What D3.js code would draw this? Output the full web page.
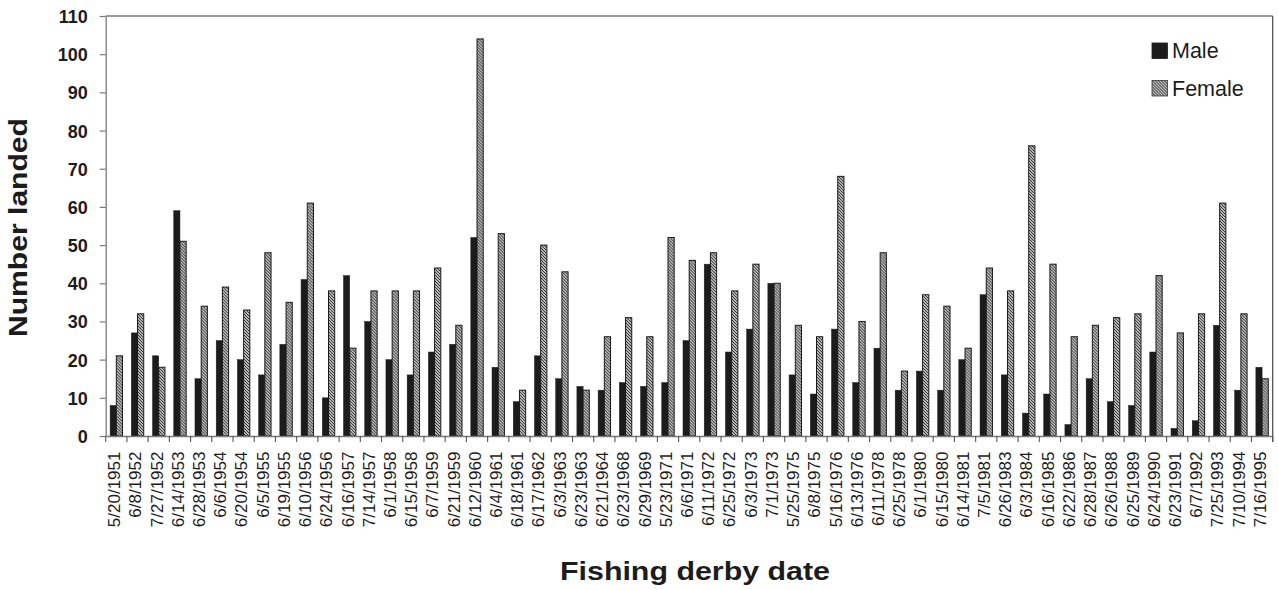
<!DOCTYPE html>
<html>
<head>
<meta charset="utf-8">
<script src="https://cdn.jsdelivr.net/npm/d3@7"></script>
<style>
  html, body { margin: 0; padding: 0; background: #fff; }
  svg { display: block; font-family: "Liberation Sans", Arial, sans-serif; }
</style>
</head>
<body>
<svg id="chart" width="1278" height="590"></svg>
<script>
// Fishing derby dates and fish landed by sex
const dates = ["5/20/1951","6/8/1952","7/27/1952","6/14/1953","6/28/1953","6/6/1954","6/20/1954","6/5/1955","6/19/1955","6/10/1956",
  "6/24/1956","6/16/1957","7/14/1957","6/1/1958","6/15/1958","6/7/1959","6/21/1959","6/12/1960","6/4/1961","6/18/1961",
  "6/17/1962","6/3/1963","6/23/1963","6/21/1964","6/23/1968","6/29/1969","5/23/1971","6/6/1971","6/11/1972","6/25/1972",
  "6/3/1973","7/1/1973","5/25/1975","6/8/1975","5/16/1976","6/13/1976","6/11/1978","6/25/1978","6/1/1980","6/15/1980",
  "6/14/1981","7/5/1981","6/26/1983","6/3/1984","6/16/1985","6/22/1986","6/28/1987","6/26/1988","6/25/1989","6/24/1990",
  "6/23/1991","6/7/1992","7/25/1993","7/10/1994","7/16/1995"];
const male = [8,27,21,59,15,25,20,16,24,41,10,42,30,20,16,22,24,52,18,9,21,15,13,12,14,13,14,25,45,22,28,40,16,11,28,14,23,12,17,12,20,37,16,6,11,3,15,9,8,22,2,4,29,12,18];
const female = [21,32,18,51,34,39,33,48,35,61,38,23,38,38,38,44,29,104,53,12,50,43,12,26,31,26,52,46,48,38,45,40,29,26,68,30,48,17,37,34,23,44,38,76,45,26,29,31,32,42,27,32,61,32,15];
const seriesNames = ["Male", "Female"];
const yTicks = [0,10,20,30,40,50,60,70,80,90,100,110];

const svg = d3.select("#chart");
const plotL = 105.7, plotR = 1272.7, plotT = 16, plotB = 436;
const ink = "#1c1c1c", axisCol = "#7a7a7a";

// Diagonal hatch for the female series
const defs = svg.append("defs");
const pat = defs.append("pattern").attr("id", "hatch")
  .attr("patternUnits", "userSpaceOnUse").attr("width", 3).attr("height", 3);
pat.append("rect").attr("width", 3).attr("height", 3).attr("fill", "#f4f4f4");
pat.append("path").attr("d", "M-1,-1 L4,4 M-1,2 L1,4 M2,-1 L4,1")
  .attr("stroke", "#262626").attr("stroke-width", 1.1);

const x = d3.scaleBand().domain(dates).range([plotL, plotR]).paddingInner(0).paddingOuter(0);
const x1 = d3.scaleBand().domain(seriesNames).range([0, x.bandwidth()]).paddingInner(0).paddingOuter(0.71);
const y = d3.scaleLinear().domain([0, 110]).range([plotB, plotT]);

// Plot frame: top and right edges
svg.append("line").attr("x1", plotL).attr("x2", plotR).attr("y1", plotT).attr("y2", plotT)
  .attr("stroke", axisCol).attr("stroke-width", 1.3);
svg.append("line").attr("x1", plotR).attr("x2", plotR).attr("y1", plotT).attr("y2", plotB + 6)
  .attr("stroke", "#555").attr("stroke-width", 1.3);

// Bars
const rows = dates.map((d, i) => ({ date: d, values: [
  { key: "Male", v: male[i] }, { key: "Female", v: female[i] } ] }));
const groups = svg.append("g").selectAll("g").data(rows).join("g")
  .attr("transform", d => `translate(${x(d.date)},0)`);
groups.selectAll("rect").data(d => d.values).join("rect")
  .attr("x", d => x1(d.key))
  .attr("width", x1.bandwidth())
  .attr("y", d => y(d.v))
  .attr("height", d => plotB - y(d.v))
  .attr("fill", d => d.key === "Male" ? ink : "url(#hatch)")
  .attr("stroke", d => d.key === "Male" ? ink : "#1a1a1a")
  .attr("stroke-width", d => d.key === "Male" ? 0.5 : 1);

// Y axis
const yAxis = svg.append("g").attr("transform", `translate(${plotL},0)`)
  .call(d3.axisLeft(y).tickValues(yTicks).tickSize(6).tickPadding(12).tickSizeOuter(0));
yAxis.select(".domain").attr("stroke", axisCol).attr("stroke-width", 1.3);
yAxis.selectAll(".tick line").attr("stroke", axisCol).attr("stroke-width", 1.2);
yAxis.selectAll(".tick text").attr("fill", ink).attr("font-size", 18).attr("font-weight", "bold")
  .attr("font-family", "'Liberation Sans', Arial, sans-serif").attr("dy", "0.36em");

// X axis: baseline, boundary ticks and rotated date labels
const xAxis = svg.append("g").attr("transform", `translate(0,${plotB})`)
  .call(d3.axisBottom(x).tickSize(0).tickSizeOuter(0).tickFormat(""));
xAxis.select(".domain").attr("stroke", axisCol).attr("stroke-width", 1.3);
const bounds = dates.map(d => x(d)).concat([x.range()[1]]);
svg.append("g").selectAll("line").data(bounds).join("line")
  .attr("x1", d => d).attr("x2", d => d).attr("y1", plotB).attr("y2", plotB + 6)
  .attr("stroke", "#555").attr("stroke-width", 1.1);
svg.append("g").selectAll("text").data(dates).join("text")
  .attr("transform", d => `translate(${x(d) + x.bandwidth() / 2 + 3.8},451.5) rotate(-90)`)
  .attr("text-anchor", "end")
  .attr("font-size", 17)
  .attr("fill", ink)
  .text(d => d);

// Axis titles
svg.append("text")
  .attr("transform", "translate(27,227.5) rotate(-90)")
  .attr("text-anchor", "middle").attr("font-size", 25.5).attr("font-weight", "bold")
  .attr("textLength", 219).attr("lengthAdjust", "spacingAndGlyphs")
  .attr("fill", ink).text("Number landed");
svg.append("text")
  .attr("x", 695).attr("y", 580)
  .attr("text-anchor", "middle").attr("font-size", 25.5).attr("font-weight", "bold")
  .attr("textLength", 270).attr("lengthAdjust", "spacingAndGlyphs")
  .attr("fill", ink).text("Fishing derby date");

// Legend
const legend = svg.append("g").selectAll("g").data(seriesNames).join("g")
  .attr("transform", (d, i) => `translate(1152,${43 + i * 37.5})`);
legend.append("rect").attr("width", 15.5).attr("height", 15.5)
  .attr("fill", d => d === "Male" ? ink : "url(#hatch)")
  .attr("stroke", d => d === "Male" ? ink : "#333").attr("stroke-width", 0.8);
legend.append("text").attr("x", 20).attr("y", 15.3)
  .attr("font-size", 21.5).attr("fill", ink).text(d => d);
</script>
</body>
</html>
